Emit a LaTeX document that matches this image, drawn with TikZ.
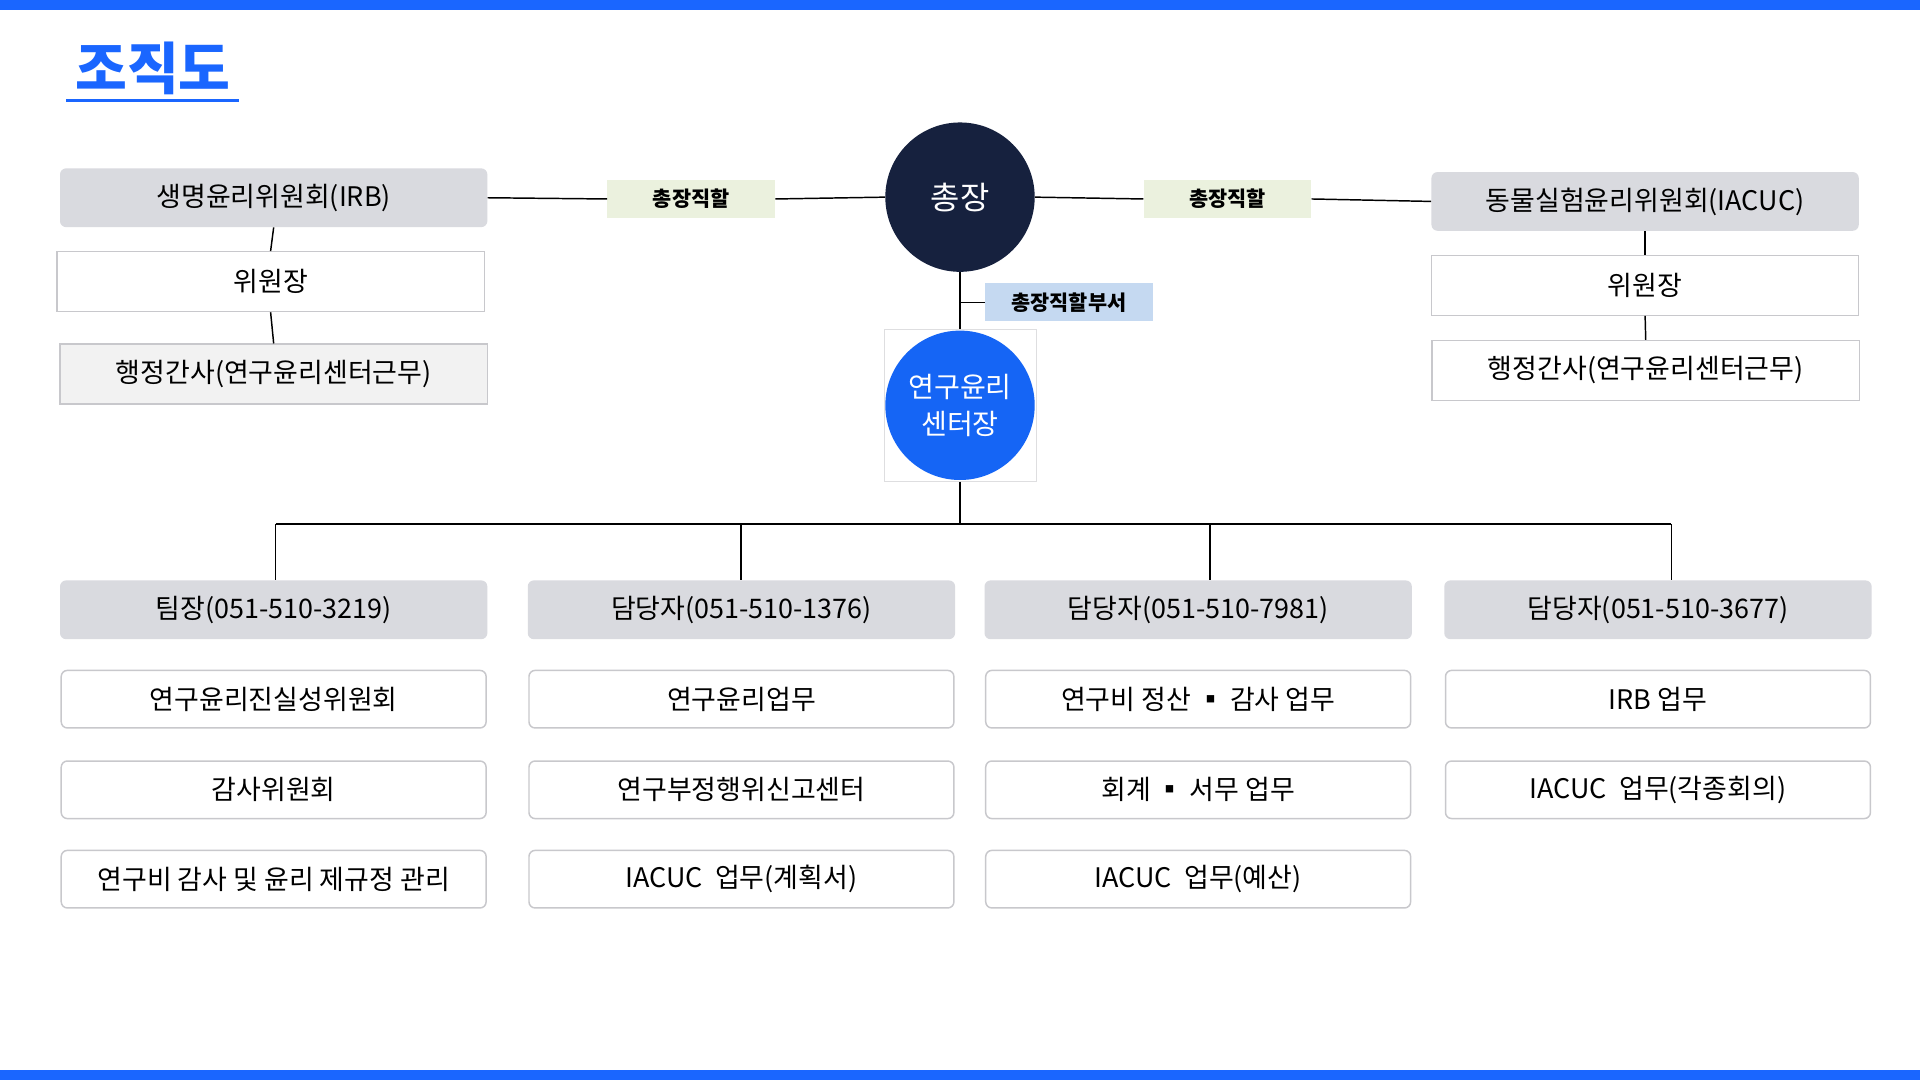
\documentclass[tikz,border=0pt]{standalone}
\usepackage{fontspec}
\setmainfont{Noto Sans CJK KR}
\begin{document}
\begin{tikzpicture}[x=1pt,y=-1pt,
 hdr/.style={fill=hgray,rounded corners=5pt,minimum width=349pt,minimum height=48pt,inner sep=0pt,font=\fontsize{22}{26}\selectfont},
 item/.style={fill=white,draw=bgray,line width=1.2pt,rounded corners=5pt,minimum width=347pt,minimum height=47pt,inner sep=0pt,font=\fontsize{22}{26}\selectfont},
 sbox/.style={fill=white,draw=bgray,line width=1pt,minimum width=349pt,minimum height=49pt,inner sep=0pt,font=\fontsize{22}{26}\selectfont},
 tag/.style={minimum width=137pt,minimum height=31pt,inner sep=0pt,font=\bfseries\fontsize{17}{20}\selectfont},
 ln/.style={line width=1.2pt,black}]
\definecolor{blu}{HTML}{1A66FF}
\definecolor{navy}{HTML}{16213E}
\definecolor{cblue}{HTML}{1565F5}
\definecolor{hgray}{HTML}{D9DADF}
\definecolor{bgray}{HTML}{C8C8CC}
\definecolor{tgreen}{HTML}{EBF1DE}
\definecolor{tblue}{HTML}{C5D9F1}
\useasboundingbox (0,0) rectangle (1568,882);
\fill[white] (0,0) rectangle (1568,882);
\fill[blu] (0,0) rectangle (1568,8);
\fill[blu] (0,874) rectangle (1568,882);
\node[text=blu,font=\bfseries\fontsize{46}{50}\selectfont,inner sep=0pt] (title) at (125,56) {조직도};
\draw[blu,line width=2pt] (54,82) -- (195,82);
% top
\node[circle,fill=navy,minimum size=122pt,text=white,font=\fontsize{26}{30}\selectfont] (pres) at (784,161) {총장};
\node[draw=bgray!60,line width=0.6pt,minimum size=124pt,inner sep=0pt] (cbox) at (784,331) {};
\node[circle,fill=cblue,minimum size=122pt,text=white,align=center,font=\fontsize{23}{30}\selectfont] (ctr) at (784,331) {연구윤리\\센터장};
\draw[ln] (pres.south) -- (cbox.north);
\node[tag,fill=tblue] (tg3) at (873,247) {총장직할부서};
\draw[ln] (784,247) -- (tg3.west);
% left committee
\node[hdr] (irb) at (223.5,161.5) {생명윤리위원회(IRB)};
\node[tag,fill=tgreen] (tg1) at (564.5,162.5) {총장직할};
\draw[ln] (irb.east) -- (tg1.west); \draw[ln] (tg1.east) -- (pres.west);
\node[sbox] (l1) at (221,230) {위원장};
\node[sbox,fill=gray!10] (l2) at (223.5,305.5) {행정간사(연구윤리센터근무)};
\draw[ln] (irb.south) -- (l1.north); \draw[ln] (l1.south) -- (l2.north);
% right committee
\node[hdr] (iacuc) at (1343.5,164.5) {동물실험윤리위원회(IACUC)};
\node[tag,fill=tgreen] (tg2) at (1002.5,162.5) {총장직할};
\draw[ln] (pres.east) -- (tg2.west); \draw[ln] (tg2.east) -- (iacuc.west);
\node[sbox] (r1) at (1343.5,233) {위원장};
\node[sbox] (r2) at (1344,302.5) {행정간사(연구윤리센터근무)};
\draw[ln] (iacuc.south) -- (r1.north); \draw[ln] (r1.south) -- (r2.north);
% bottom
\coordinate (bus) at (784,428);
\draw[ln] (cbox.south) -- (bus);
\node[hdr] (h1) at (223.5,498) {팀장(051-510-3219)};
\node[hdr] (h2) at (605.5,498) {담당자(051-510-1376)};
\node[hdr] (h3) at (978.5,498) {담당자(051-510-7981)};
\node[hdr] (h4) at (1354,498) {담당자(051-510-3677)};
\coordinate (b1) at (225,428); \coordinate (b2) at (605,428);
\coordinate (b3) at (988,428); \coordinate (b4) at (1365,428);
\draw[ln] (b1) -- (b4);
\draw[ln] (b1) -- (225,474); \draw[ln] (b2) -- (605,474);
\draw[ln] (b3) -- (988,474); \draw[ln] (b4) -- (1365,474);
\node[item] (a1) at (223.5,571) {연구윤리진실성위원회};
\node[item] (a2) at (223.5,645) {감사위원회};
\node[item] (a3) at (223.5,718) {연구비 감사 및 윤리 제규정 관리};
\node[item] (c1) at (605.5,571) {연구윤리업무};
\node[item] (c2) at (605.5,645) {연구부정행위신고센터};
\node[item] (c3) at (605.5,718) {IACUC\ \ 업무(계획서)};
\node[item] (d1) at (978.5,571) {연구비 정산 ▪ 감사 업무};
\node[item] (d2) at (978.5,645) {회계 ▪ 서무 업무};
\node[item] (d3) at (978.5,718) {IACUC\ \ 업무(예산)};
\node[item] (e1) at (1354,571) {IRB 업무};
\node[item] (e2) at (1354,645) {IACUC\ \ 업무(각종회의)};
\end{tikzpicture}
\end{document}
